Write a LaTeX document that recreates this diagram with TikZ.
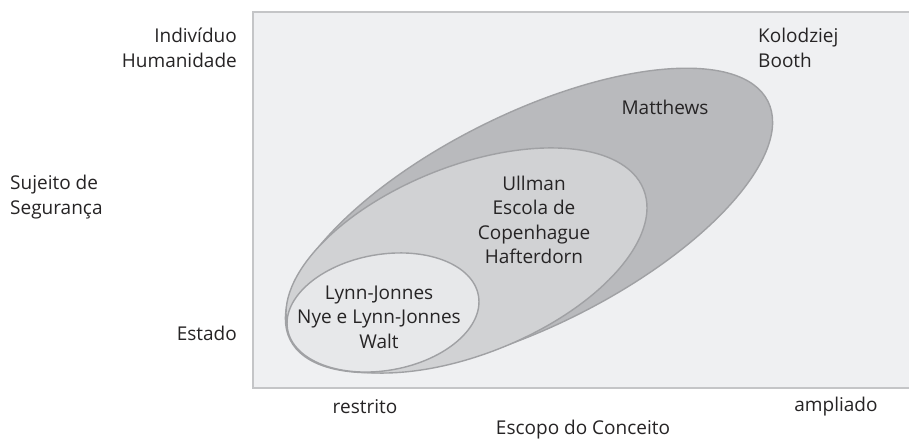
\documentclass[tikz,border=0pt]{standalone}
\usepackage{fontspec}
\setmainfont{Open Sans}
\definecolor{bgc}{HTML}{EFF0F2}
\definecolor{boxline}{HTML}{C4C5C7}
\definecolor{outerc}{HTML}{B9BABD}
\definecolor{midc}{HTML}{D1D2D4}
\definecolor{innerc}{HTML}{E7E8EA}
\definecolor{elline}{HTML}{A0A1A4}
\definecolor{txt}{HTML}{262425}
\begin{document}
\begin{tikzpicture}[x=1pt,y=1pt,
  lbl/.style={font=\fontsize{19}{24.5}\selectfont, text=txt, inner sep=0pt},
  ell/.style={draw=elline, line width=1.4pt}]
\useasboundingbox (0,0) rectangle (909,441);
\fill[white] (0,0) rectangle (909,441);
\filldraw[fill=bgc, draw=boxline, line width=1.6pt] (253,53) rectangle (915,429);
% ellipses
\filldraw[ell, fill=outerc] (529,220.5) ellipse[x radius=267, y radius=106, rotate=26.5];
\filldraw[ell, fill=midc] (466.5,180.5) ellipse[x radius=190.8, y radius=94, rotate=21.9];
\filldraw[ell, fill=innerc] (383,128.5) ellipse[x radius=96.9, y radius=58, rotate=10];
% labels inside
\node[lbl, align=left, anchor=west] (kolo) at (758,393) {Kolodziej\\Booth};
\node[lbl] (matt) at (665,334) {Matthews};
\node[lbl, align=center] (ull) at (534,221) {Ullman\\Escola de\\Copenhague\\Hafterdorn};
\node[lbl, align=center] (lynn) at (379,124) {Lynn-Jonnes\\Nye e Lynn-Jonnes\\Walt};
% axis labels
\node[lbl, align=right, anchor=east] (ind) at (237,393) {Indivíduo\\Humanidade};
\node[lbl, align=left, anchor=west] (suj) at (10,244) {Sujeito de\\Segurança};
\node[lbl, anchor=east] (est) at (237,108) {Estado};
\node[lbl] (res) at (365,34) {restrito};
\node[lbl] (amp) at (836,34) {ampliado};
\node[lbl] (esc) at (583,11) {Escopo do Conceito};
\end{tikzpicture}
\end{document}
